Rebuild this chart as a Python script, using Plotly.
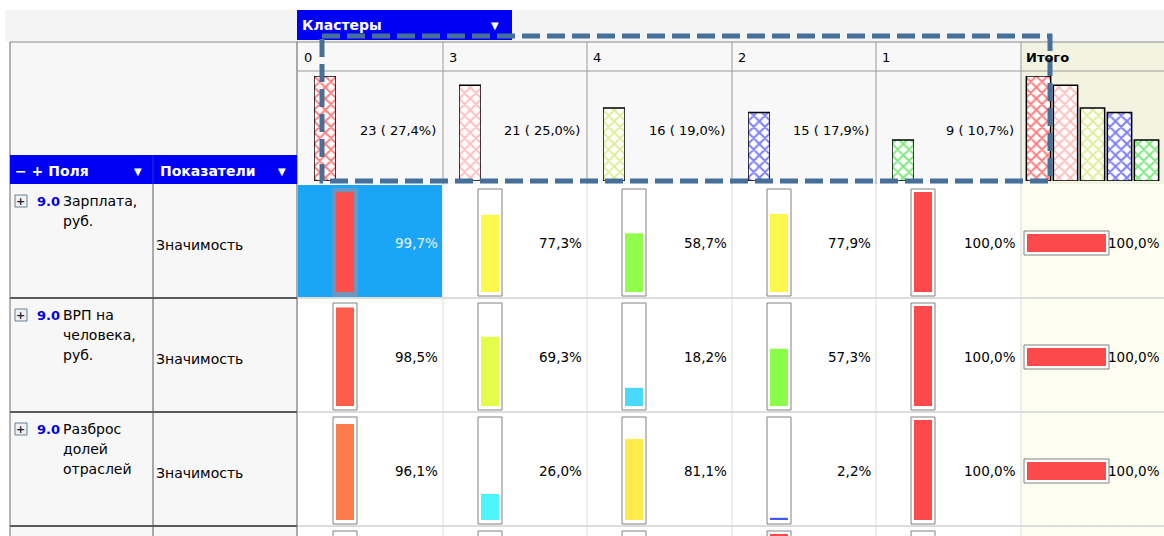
import plotly.graph_objects as go

W, H = 1164, 536
FONT = "DejaVu Sans"

# ---- data ----
clusters = ["0", "3", "4", "2", "1"]
cluster_sizes = [23, 21, 16, 15, 9]
cluster_pct = [27.4, 25.0, 19.0, 17.9, 10.7]

field_codes = ["9.0", "9.0", "9.0", "9.0"]
field_names = [["Зарплата,", "руб."],
               ["ВРП на", "человека,", "руб."],
               ["Разброс", "долей", "отраслей"],
               ["Ч"]]
measure_name = "Значимость"

# significance per field, one list per cluster (order of `clusters`)
sig_c0 = [99.7, 98.5, 96.1, 97.0]
sig_c3 = [77.3, 69.3, 26.0, 5.0]
sig_c4 = [58.7, 18.2, 81.1, 5.0]
sig_c2 = [77.9, 57.3, 2.2, 100.0]
sig_c1 = [100.0, 100.0, 100.0, 5.0]
sig_total = [100.0, 100.0, 100.0, 100.0]
significance = [sig_c0, sig_c3, sig_c4, sig_c2, sig_c1]

# ---- styling ----
hatch_colors = ["#ff0000", "#ff8080", "#c4dc30", "#0000ff", "#00d400"]
heat = [[0.0, "#3c3cf0"], [0.05, "#4a7cfc"], [0.2, "#4ae4fc"], [0.28, "#4afcfc"],
        [0.5, "#6cfc4a"], [0.58, "#8cfc4a"], [0.69, "#e4fc4a"], [0.77, "#fcfa4a"],
        [0.82, "#fce84a"], [0.96, "#fc7c4a"], [1.0, "#fc4a4a"]]

col_x = [298, 443, 587, 732, 876, 1021, 1164]
row_top = [184, 298, 412, 526]
head_top, head_line, head_bottom = 42, 71, 184
bar_top, bar_bottom = 76, 181


def fmt(v):
    return f"{v:.1f}".replace(".", ",") + "%"


fig = go.Figure()
layout_upd = {}
shapes = []
ann = []
axis_n = [0]


def new_axes(xpx, ypx, xrange=None, yrange=None, xtype=None, ytype=None):
    axis_n[0] += 1
    n = axis_n[0]
    s = "" if n == 1 else str(n)
    layout_upd[f"xaxis{s}"] = dict(domain=[xpx[0] / W, xpx[1] / W], anchor=f"y{s}", visible=False,
                                   fixedrange=True, range=xrange, type=xtype)
    layout_upd[f"yaxis{s}"] = dict(domain=[1 - ypx[1] / H, 1 - ypx[0] / H], anchor=f"x{s}", visible=False,
                                   fixedrange=True, range=yrange, type=ytype)
    return f"x{s}", f"y{s}"


def rect(x0, y0, x1, y1, fill=None, line=None, width=1, dash=None, layer="below"):
    shapes.append(dict(type="rect", xref="paper", yref="paper", x0=x0 / W, x1=x1 / W,
                       y0=1 - y0 / H, y1=1 - y1 / H, fillcolor=fill or "rgba(0,0,0,0)",
                       line=dict(color=line or "rgba(0,0,0,0)", width=width if line else 0, dash=dash),
                       layer=layer))


def hline(x0, x1, y, color, width=1):
    shapes.append(dict(type="line", xref="paper", yref="paper", x0=x0 / W, x1=x1 / W,
                       y0=1 - y / H, y1=1 - y / H, line=dict(color=color, width=width), layer="below"))


def vline(x, y0, y1, color, width=1):
    shapes.append(dict(type="line", xref="paper", yref="paper", x0=x / W, x1=x / W,
                       y0=1 - y0 / H, y1=1 - y1 / H, line=dict(color=color, width=width), layer="below"))


def text(x, y, s, size=12, color="black", bold=False, xanchor="left"):
    ann.append(dict(x=x / W, y=1 - y / H, xref="paper", yref="paper", showarrow=False,
                    text=f"<b>{s}</b>" if bold else s, xanchor=xanchor, yanchor="middle",
                    font=dict(size=size, color=color, family=FONT)))


def hatch(colors):
    return dict(color="white",
                pattern=dict(shape="x", fgcolor=colors, bgcolor="white", size=8, solidity=0.45),
                line=dict(color="black", width=1.5))


# ---- backgrounds ----
rect(5, 10, W, head_top, fill="#f4f4f4")
rect(10, head_top, 297, H, fill="#f7f7f7")
rect(298, head_top, col_x[5], head_bottom, fill="#f8f8f8")
rect(col_x[5], head_top, W, head_bottom, fill="#f3f3e2")
rect(298, head_bottom, col_x[5], H, fill="#ffffff")
rect(col_x[5], head_bottom, W, H, fill="#fdfdf1")
rect(298, head_bottom + 1, col_x[1] - 1, row_top[1] - 1, fill="#1ba5f7")

# ---- grid ----
hline(10, W, head_top, "#8c8c8c")
hline(298, W, head_line, "#9a9a9a")
for x in col_x[1:6]:
    vline(x, head_top, head_bottom, "#9a9a9a")
    vline(x, head_bottom, H, "#dcdcdc")
for y in row_top[1:]:
    hline(298, W, y, "#dcdcdc", 2)
    hline(10, 297, y, "#5a5a5a", 2)
vline(10, head_top, H, "#6a6a6a")
vline(153, head_bottom, H, "#5a5a5a")
vline(297, head_top, H, "#5a5a5a")

# ---- header strips ----
rect(10, 155, 297, head_bottom, fill="#0000f5")
vline(153, 155, head_bottom, "#3030c0")
rect(297, 10, 512, 40, fill="#0000f5")
text(300, 25, "Кластеры", size=14, color="white", bold=True)
text(495, 25, "▼", size=10, color="white", xanchor="center")
text(13, 171, "− + Поля", size=14, color="white", bold=True)
text(138, 171, "▼", size=10, color="white", xanchor="center")
text(158, 171, "Показатели", size=14, color="white", bold=True)
text(282, 171, "▼", size=10, color="white", xanchor="center")

# ---- cluster header bars ----
ymax = max(cluster_sizes)
for i, c in enumerate(clusters):
    left = col_x[i]
    text(left + 4, 57, c, size=13)
    xa, ya = new_axes([left + 16, left + 38], [bar_top, bar_bottom], yrange=[0, ymax], xtype="category")
    fig.add_trace(go.Bar(x=[c], y=[cluster_sizes[i]], width=1, xaxis=xa, yaxis=ya, hoverinfo="skip",
                         marker=hatch(hatch_colors[i])))
    text(col_x[i + 1] - 5, 130, f"{cluster_sizes[i]} ( {fmt(cluster_pct[i])})", size=13, xanchor="right")

text(col_x[5] + 3, 57, "Итого", size=13, bold=True)
xa, ya = new_axes([1025, 1160], [bar_top, bar_bottom], yrange=[0, ymax], xtype="category")
fig.add_trace(go.Bar(x=clusters, y=cluster_sizes, xaxis=xa, yaxis=ya, hoverinfo="skip",
                     marker=hatch(hatch_colors)))

# ---- rows ----
for r, top in enumerate(row_top):
    visible_row = top + 112 < H
    # row header
    rect(15, top + 11, 27, top + 23, fill="#eef2f6", line="#6e7e8e", width=1)
    if visible_row:
        text(21, top + 17, "+", size=11, color="#222", bold=True, xanchor="center")
        text(35, top + 17, field_codes[r], size=13, color="#0000e0", bold=True)
        for k, line in enumerate(field_names[r]):
            text(61, top + 17 + 20 * k, line, size=14)
        text(154, top + 61, measure_name, size=14)

    for i in range(len(clusters)):
        left = col_x[i]
        v = significance[i][r]
        selected = (r == 0 and i == 0)
        rect(left + 35, top + 5, left + 59, top + 112,
             fill="#6f95bd" if selected else "white",
             line="#7898b8" if selected else "#808080", width=1)
        y100, y0 = top + 8, top + 108
        lo = 0
        if y0 > H:
            lo = y0 - H
            y0 = H
        if y100 < H - 0.5:
            xa, ya = new_axes([left + 38, left + 56], [y100, y0], yrange=[lo, 100], xtype="category")
            fig.add_trace(go.Bar(x=[measure_name], y=[v], width=1, xaxis=xa, yaxis=ya, hoverinfo="skip",
                                 marker=dict(color=[v], colorscale=heat, cmin=0, cmax=100,
                                             line=dict(width=0))))
        if visible_row:
            text(col_x[i + 1] - 3, top + 59, fmt(v), size=13.5,
                 color="#e8f4ff" if selected else "black", xanchor="right")

    # total column
    c = top + 59
    if visible_row:
        rect(1024, c - 12, 1109, c + 12, fill="white", line="#808080", width=1)
        xa, ya = new_axes([1027, 1106], [c - 9, c + 9], xrange=[0, 100], ytype="category")
        fig.add_trace(go.Bar(x=[sig_total[r]], y=[measure_name], width=1, orientation="h",
                             xaxis=xa, yaxis=ya, hoverinfo="skip",
                             marker=dict(color=[sig_total[r]], colorscale=heat, cmin=0, cmax=100,
                                         line=dict(width=0))))
        text(1162, c, fmt(sig_total[r]), size=13.5, xanchor="right")

# ---- dashed highlight frame ----
rect(322, 36, 1050, 181, line="#46709a", width=5, dash="18px,7px", layer="above")

fig.update_layout(**layout_upd)
fig.update_layout(width=W, height=H, margin=dict(l=0, r=0, t=0, b=0),
                  paper_bgcolor="white", plot_bgcolor="rgba(0,0,0,0)",
                  showlegend=False, bargap=0.1, shapes=shapes, annotations=ann,
                  font=dict(family=FONT))

fig.write_html("out.html", post_script="document.body.style.margin='0';",
               config={"displayModeBar": False})
